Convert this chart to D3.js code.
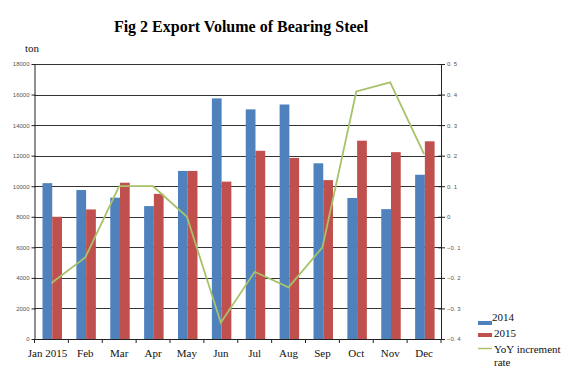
<!DOCTYPE html>
<html><head><meta charset="utf-8">
<script src="https://cdn.jsdelivr.net/npm/d3@7"></script>
<style>body{margin:0;background:#fff}svg{display:block}</style>
</head><body>
<svg id="c" width="576" height="371"></svg>
<script>
const months = ["Jan 2015","Feb","Mar","Apr","May","Jun","Jul","Aug","Sep","Oct","Nov","Dec"];
const vol2014 = [10200,9750,9250,8700,11000,15750,15030,15350,11500,9230,8500,10750];
const vol2015 = [8000,8480,10230,9500,11000,10300,12320,11850,10400,12980,12230,12940];
const yoyRate = [-0.217,-0.133,0.10,0.10,0.0,-0.347,-0.18,-0.231,-0.10,0.41,0.44,0.205];
const leftTicks = [0,2000,4000,6000,8000,10000,12000,14000,16000,18000];
const rightTicks = [-0.4,-0.3,-0.2,-0.1,0,0.1,0.2,0.3,0.4,0.5];
const seriesNames = ["2014","2015","YoY increment rate"];

const svg = d3.select("#c");
const L = 34.5, R = 441, T = 64, B = 339;
const x = d3.scaleBand().domain(months).range([L, R]).padding(0);
const y = d3.scaleLinear().domain([0,18000]).range([B, T]);
const y2 = d3.scaleLinear().domain([-0.4,0.5]).range([B, T]);
const inner = d3.scaleBand().domain(["2014","2015"]).range([0, x.bandwidth()*0.575]);
const off = (x.bandwidth() - x.bandwidth()*0.575)/2 + 0.8;

// gridlines
svg.append("g").selectAll("line").data(leftTicks.slice(1)).join("line")
  .attr("x1", L).attr("x2", R).attr("y1", d=>Math.round(y(d))+0.5).attr("y2", d=>Math.round(y(d))+0.5)
  .attr("stroke", "#333").attr("stroke-width", 1);

// bars
const colors = {"2014":"#4f81bd","2015":"#c0504d"};
const g = svg.append("g");
months.forEach((m,i)=>{
  [["2014",vol2014[i]],["2015",vol2015[i]]].forEach(([s,v])=>{
    g.append("rect").attr("x", x(m)+off+inner(s)).attr("width", inner.bandwidth())
      .attr("y", y(v)).attr("height", B - y(v)).attr("fill", colors[s]);
  });
});

// line
const line = d3.line().x((d,i)=>x(months[i])+x.bandwidth()/2).y(d=>y2(d));
svg.append("path").datum(yoyRate).attr("d", line).attr("fill","none")
  .attr("stroke","#a8c26a").attr("stroke-width",1.8);

// left axis
const la = d3.axisLeft(y).tickValues(leftTicks).tickSize(3).tickSizeOuter(0).tickFormat(d3.format("d"));
const lag = svg.append("g").attr("transform",`translate(${L},0)`).call(la);
lag.select(".domain").attr("stroke","#222");
lag.selectAll(".tick line").attr("stroke","#222").attr("x2",-3).attr("x1",1);
lag.selectAll("text").attr("font-family","Arial, 'Liberation Sans', sans-serif").attr("font-size",6).attr("fill","#555").attr("x",-5);

// right axis
const ra = d3.axisRight(y2).tickValues(rightTicks).tickSize(4).tickSizeOuter(0)
  .tickFormat(d=> d===0 ? "0" : (d<0?"\u22120.":"0.")+" "+Math.round(Math.abs(d)*10));
const rag = svg.append("g").attr("transform",`translate(${R},0)`).call(ra);
rag.select(".domain").attr("stroke","#222");
rag.selectAll(".tick line").attr("stroke","#222").attr("x1",-3).attr("x2",4);
rag.selectAll("text").attr("font-family","Arial, 'Liberation Sans', sans-serif").attr("font-size",6).attr("fill","#555").attr("x",6);

// x axis
svg.append("line").attr("x1",L).attr("x2",R).attr("y1",B+0.5).attr("y2",B+0.5).attr("stroke","#222");
svg.append("g").selectAll("line").data(months.concat(["end"])).join("line")
  .attr("x1",(d,i)=>L + i*x.step()).attr("x2",(d,i)=>L + i*x.step())
  .attr("y1",B).attr("y2",B+4).attr("stroke","#222");
svg.append("g").selectAll("text").data(months).join("text")
  .attr("x", d=>x(d)+x.bandwidth()/2 + (d==="Jan 2015"?-4:0)).attr("y", 357)
  .attr("text-anchor","middle").attr("font-family","'Liberation Serif', 'Times New Roman', serif")
  .attr("font-size",11).attr("fill","#111").text(d=>d);

// title & unit
svg.append("text").attr("x",241).attr("y",32).attr("text-anchor","middle")
  .attr("font-family","'Liberation Serif', 'Times New Roman', serif").attr("font-weight","bold")
  .attr("font-size",16).attr("fill","#000").text("Fig 2 Export Volume of Bearing Steel");
svg.append("text").attr("x",25).attr("y",52)
  .attr("font-family","'Liberation Serif', 'Times New Roman', serif").attr("font-size",11).attr("fill","#111").text("ton");

// legend
const lg = svg.append("g").attr("font-family","'Liberation Serif', 'Times New Roman', serif").attr("font-size",11).attr("fill","#111");
lg.append("rect").attr("x",478).attr("y",321).attr("width",14).attr("height",4).attr("fill",colors["2014"]);
lg.append("text").attr("x",492).attr("y",321).text(seriesNames[0]);
lg.append("rect").attr("x",478).attr("y",333).attr("width",14).attr("height",4).attr("fill",colors["2015"]);
lg.append("text").attr("x",494).attr("y",337).text(seriesNames[1]);
lg.append("line").attr("x1",478).attr("x2",492).attr("y1",348.5).attr("y2",348.5).attr("stroke","#a8c26a").attr("stroke-width",1.5);
lg.append("text").attr("x",494).attr("y",353).text("YoY increment");
lg.append("text").attr("x",494).attr("y",366).text("rate");
</script>
</body></html>
